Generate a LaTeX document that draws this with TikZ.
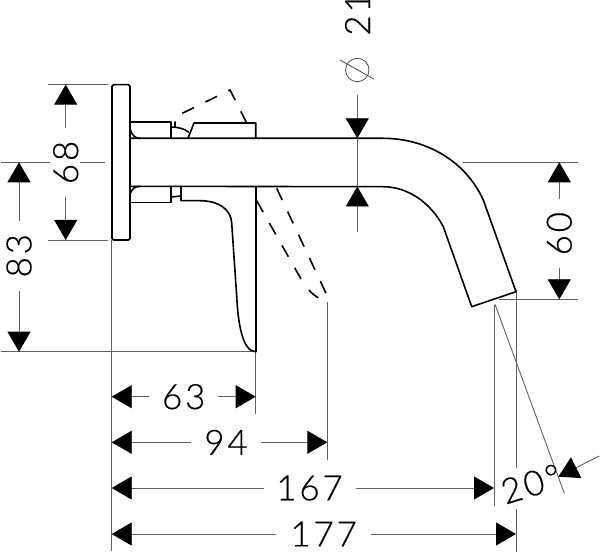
\documentclass[tikz,border=0pt]{standalone}
\usepackage{fontspec}
\setmainfont{Lato Light}
\newfontfamily\dimfont[LetterSpace=8,FakeBold=0.35]{Lato Light}
\usetikzlibrary{arrows.meta}
\tikzset{
  part/.style={line width=1.6pt,black,line join=round,line cap=round},
  phantomline/.style={line width=1.6pt,black,dash pattern=on 13pt off 12.7pt},
  dimline/.style={line width=0.9pt,black!62},
  dimarrow/.style={dimline,-{Triangle[length=20pt,width=23pt,color=black,fill=black]}},
  dimtext/.style={font=\fontsize{35}{35}\selectfont\dimfont,text=black,inner sep=0pt,outer sep=0pt,minimum height=24pt}
}
\begin{document}
\begin{tikzpicture}[x=1pt,y=-1pt]
\useasboundingbox[fill=white] (0,0) rectangle (600,553);
% extension lines
\draw[dimline] (111.7,240) -- (111.7,551);
\draw[dimline] (47.7,84.7) -- (108,84.7);
\draw[dimline] (47.7,240) -- (108,240);
\draw[dimline] (1,162.3) -- (50,162.3);
\draw[dimline] (80,162.3) -- (105,162.3);
\draw[dimline] (1,351.7) -- (255.7,351.7);
\draw[dimline] (255.7,352) -- (255.7,414.3);
\draw[dimline] (327.3,301.7) -- (327.3,460);
\draw[dimline] (494,305) -- (494,506);
\draw[dimline] (516,290) -- (516,467.7);
\draw[dimline] (516,509) -- (516,551.7);
\draw[dimline] (463.3,162.3) -- (577.7,162.3);
\draw[dimline] (499.3,299.3) -- (577.7,299.3);
\draw[dimline] (495,304.3) -- (564.3,493.3);
% faucet body
\draw[part,rounded corners=1.5pt] (112,84.7) rectangle (130,240);
\draw[part] (130,138.3) -- (383,138.3) .. controls (425,138.3) and (465,160) .. (483.3,200)
  -- (516,291.7) -- (471.7,306.7) -- (443.3,226.7)
  .. controls (431,203) and (408,186.7) .. (383,186.7) -- (130,186.3);
% upper collar and lever
\draw[part] (130.5,122) -- (171,122) -- (171,138.3);
\draw[part] (130.5,130) .. controls (132,135) and (135,138.3) .. (140,138.3);
\draw[part] (171,127) .. controls (178,127) and (185,129) .. (188.5,132);
\draw[part] (175,122) -- (175,127);
\draw[part] (188,138.3) -- (194,123) -- (255.7,123) -- (255.7,138.3);
% lower collar
\draw[part] (130.5,202.7) -- (171,202.7) -- (171,186.3);
\draw[part] (130.5,193) .. controls (132,189) and (135,186.3) .. (140,186.3);
\draw[part] (171,197) -- (181,196);
\draw[part] (181,186.3) -- (181,200.7) -- (200,200.7)
  .. controls (218,200.7) and (231,209) .. (231.7,223)
  -- (236.7,296) .. controls (238,325) and (243,351.7) .. (255.7,351.7);
\draw[part] (255.7,186.3) -- (255.7,351.7);
% phantom lever
\draw[phantomline] (182.3,113.3) -- (230,90) -- (246.7,123);
\draw[phantomline] (276.7,188.3) -- (326,293.3);
\draw[phantomline] (256.7,200.7) -- (301,279);
\draw[line width=1.6pt] (309,290) .. controls (312,293.5) and (315,296) .. (318.3,297.7);
% text nodes
\node[dimtext,rotate=90,minimum width=69pt] (d68) at (65.7,162.5) {68};
\node[dimtext,rotate=90,minimum width=70pt] (d83) at (19,255.7) {83};
\node[dimtext,rotate=90,minimum width=69pt] (d60) at (559.3,233.7) {60};
\node[dimtext,minimum width=69pt] (d63) at (183.7,396.7) {63};
\node[dimtext,minimum width=70pt] (d94) at (226,442.3) {94};
\node[dimtext,minimum width=92pt] (d167) at (309.5,488) {167};
\node[dimtext,minimum width=95pt] (d177) at (323.7,534) {177};
\node[dimtext,rotate=90] (d21) at (357.5,14) {21};
\node[dimtext,rotate=17] (d20) at (531,484) {20°};
\node[circle,draw=black!70,line width=0.8pt,minimum size=23.4pt,inner sep=0pt] (phi) at (357.3,70) {};
\draw[black!70,line width=0.8pt] (340,60) -- (374.3,79.3);
% arrow targets
\coordinate (a68t) at (65.7,84.7);
\coordinate (a68b) at (65.7,240);
\coordinate (a83t) at (19,162.3);
\coordinate (a83b) at (19,351.7);
\coordinate (a60t) at (559.3,162.3);
\coordinate (a60b) at (559.3,299.3);
\coordinate (a63l) at (111.7,396.7);
\coordinate (a63r) at (255.7,396.7);
\coordinate (a94l) at (111.7,442.3);
\coordinate (a94r) at (327.3,442.3);
\coordinate (a167l) at (111.7,488);
\coordinate (a167r) at (494,488);
\coordinate (a177l) at (111.7,534);
\coordinate (a177r) at (516,534);
\draw[dimarrow] (d68.east) -- (a68t);
\draw[dimarrow] (d68.west) -- (a68b);
\draw[dimarrow] (d83.east) -- (a83t);
\draw[dimarrow] (d83.west) -- (a83b);
\draw[dimarrow] (d60.east) -- (a60t);
\draw[dimarrow] (d60.west) -- (a60b);
\draw[dimarrow] (d63.west) -- (a63l);
\draw[dimarrow] (d63.east) -- (a63r);
\draw[dimarrow] (d94.west) -- (a94l);
\draw[dimarrow] (d94.east) -- (a94r);
\draw[dimarrow] (d167.west) -- (a167l);
\draw[dimarrow] (d167.east) -- (a167r);
\draw[dimarrow] (d177.west) -- (a177l);
\draw[dimarrow] (d177.east) -- (a177r);
% diameter arrows
\coordinate (phiT) at (357.3,95);
\coordinate (phiB) at (357.3,231.7);
\coordinate (pipeT) at (357.3,138.3);
\coordinate (pipeB) at (357.3,186.5);
\draw[dimarrow] (phiT) -- (pipeT);
\draw[dimarrow] (phiB) -- (pipeB);
\draw[dimline] (pipeT) -- (pipeB);
% angle arrow
\coordinate (angT) at (599.3,456);
\coordinate (angA) at (558.3,476.7);
\draw[dimarrow] (angT) -- (angA);
\end{tikzpicture}
\end{document}
